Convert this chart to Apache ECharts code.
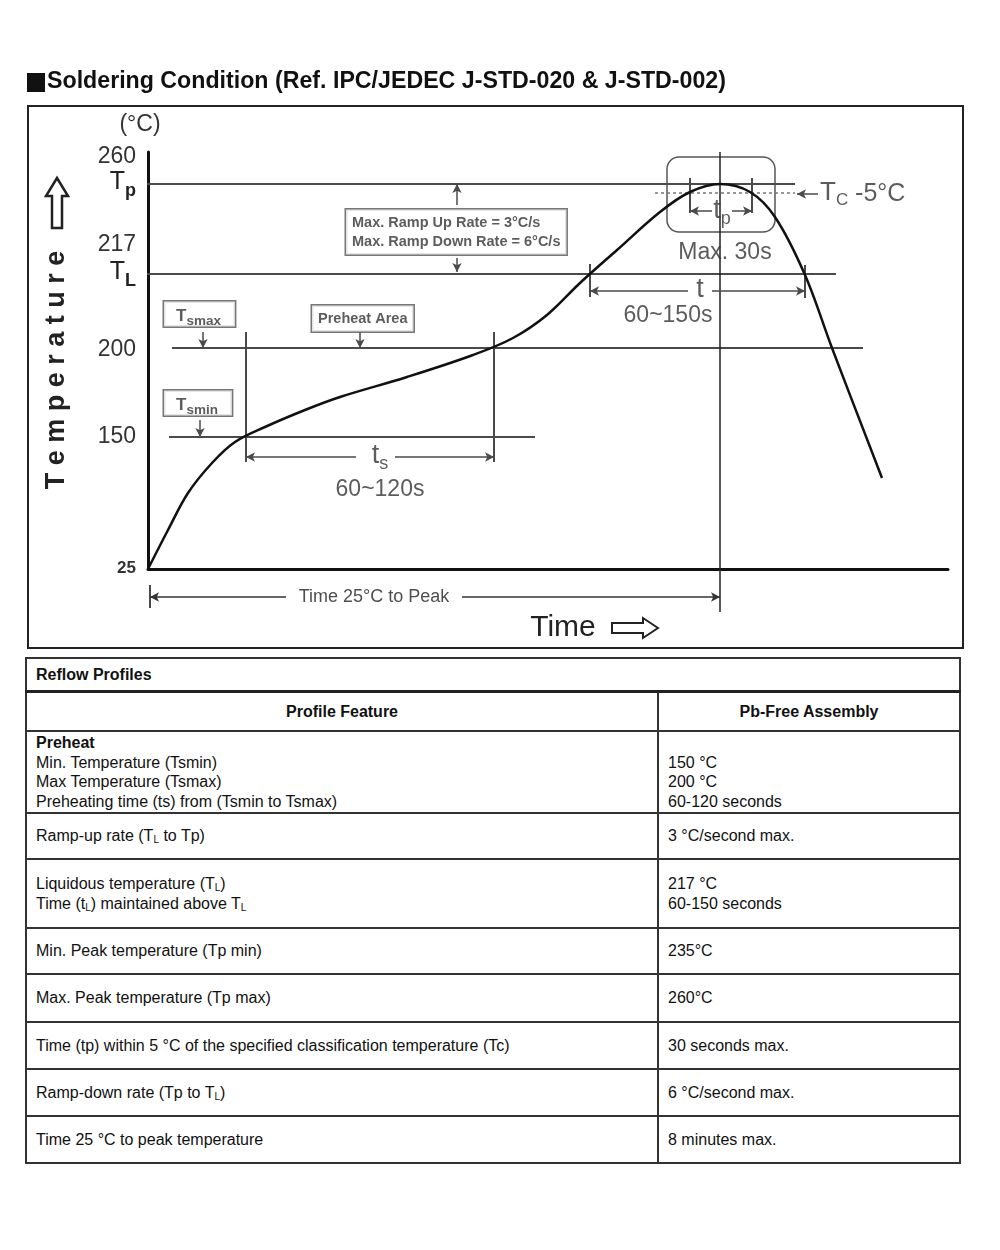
<!DOCTYPE html>
<html>
<head>
<meta charset="utf-8">
<title>Soldering Condition</title>
<script src="https://cdn.jsdelivr.net/npm/echarts@6.0.0/dist/echarts.min.js"></script>
<style>
  body { margin: 0; background: #fff; }
  #chart { position: absolute; left: 0; top: 0; width: 1000px; height: 655px; }
  table.reflow {
    position: absolute; left: 25px; top: 657px; width: 936px;
    border-collapse: collapse;
    font-family: 'Liberation Sans', Arial, sans-serif; font-size: 16px; color: #111;
  }
  table.reflow td { border: 2px solid #333; padding: 0 9px; vertical-align: middle; line-height: 19.5px; }
  table.reflow .cap td { font-weight: bold; border-bottom: 3px solid #222; }
  table.reflow .head td { font-weight: bold; text-align: center; }
  table.reflow td.top { vertical-align: top; padding-top: 1px; }
  table.reflow sub { font-size: 10px; vertical-align: -2px; line-height: 0; }
</style>
</head>
<body>
<div id="chart"></div>

<table class="reflow">
  <colgroup><col style="width:632px"><col></colgroup>
  <tr class="cap" style="height:33px"><td colspan="2">Reflow Profiles</td></tr>
  <tr class="head" style="height:40px"><td>Profile Feature</td><td>Pb-Free Assembly</td></tr>
  <tr style="height:82px">
    <td class="top"><b>Preheat</b><br>Min. Temperature (Tsmin)<br>Max Temperature (Tsmax)<br>Preheating time (ts) from (Tsmin to Tsmax)</td>
    <td class="top"><br>150 °C<br>200 °C<br>60-120 seconds</td>
  </tr>
  <tr style="height:46px"><td>Ramp-up rate (T<sub>L</sub> to Tp)</td><td>3 °C/second max.</td></tr>
  <tr style="height:69px">
    <td>Liquidous temperature (T<sub>L</sub>)<br>Time (t<sub>L</sub>) maintained above T<sub>L</sub></td>
    <td>217 °C<br>60-150 seconds</td>
  </tr>
  <tr style="height:46px"><td>Min. Peak temperature (Tp min)</td><td>235°C</td></tr>
  <tr style="height:48px"><td>Max. Peak temperature (Tp max)</td><td>260°C</td></tr>
  <tr style="height:47px"><td>Time (tp) within 5 °C of the specified classification temperature (Tc)</td><td>30 seconds max.</td></tr>
  <tr style="height:47px"><td>Ramp-down rate (Tp to T<sub>L</sub>)</td><td>6 °C/second max.</td></tr>
  <tr style="height:47px"><td>Time 25 °C to peak temperature</td><td>8 minutes max.</td></tr>
</table>

<script>
  // 示意图单位: x = 时间 (1 单位 ≈ 2px), y = 距 25°C 基线的高度 (非线性温度刻度)
  const curveTime  = [0, 10, 20, 32, 43.5, 58.5, 78.5, 96, 129.5, 162.5, 182.5, 199.5, 216, 234.5, 256, 271, 286, 301, 313.5, 328.5, 342, 367];
  const curveLevel = [0, 39, 76, 106, 127, 142, 159, 172, 192, 214, 231, 254, 286, 319, 357, 377, 385, 377, 352, 294, 221, 91];

  // 纵轴刻度
  const tickNames = ['25', '150', '200', 'TL', '217', 'Tp', '260'];
  const tickPos   = [1, 132, 219, 296, 324, 386, 412];

  // 水平参考线 (Tp, TL, Tsmax, Tsmin)
  const refLevel = [385, 295, 221, 132];
  const refFrom  = [-4, -4, 12, 10.5];
  const refTo    = [323.5, 344, 357.5, 193.5];
  // Tc -5°C 虚线
  const tcLine = [376, 253.5, 323.5];

  // 竖线
  const vTime = [49, 173, 286, 221, 328.5, 271, 302, 1];
  const vFrom = [107, 107, -43, 272, 271, 356, 356, -39];
  const vTo   = [237, 237, 417, 305, 304, 391, 391, -16];

  // 箭头 (起点 -> 箭头端)
  const arrowFrom = [[104, 112], [123.5, 112], [270, 278], [282, 278], [282, 358], [292, 358], [335, 375],
                     [154.5, 364], [154.5, 311], [27.5, 237], [106, 237], [26, 149]];
  const arrowTo   = [[49, 112], [173, 112], [221, 278], [328.5, 278], [271, 358], [302, 358], [324.5, 375],
                     [154.5, 385], [154.5, 297], [27.5, 221], [106, 221], [26, 132]];
  // 图区下方 "Time 25°C to Peak" 箭头
  const peakArrowFrom = [69, 157];
  const peakArrowTo   = [1, 286];
  const peakArrowLevel = -28;

  // 文字标注
  const noteText  = ['{t|t}{s|s}', '60~120s', '{t|t}', '60~150s', '{t|t}{s|p}', 'Max. 30s', 'Time 25°C to Peak'];
  const noteTime  = [116, 116, 276, 260, 287, 288.5, 113];
  const noteLevel = [112, 79, 278, 253, 357, 316, -28];

  const tcText = '{t|T}{s|C} -5°C';
  const tcPos = [336, 375];

  // 方框标注 (左边缘位置)
  const boxText  = ['Max. Ramp Up Rate = 3°C/s\nMax. Ramp Down Rate = 6°C/s', '{b|T}{s|smax}', 'Preheat Area', '{b|T}{s|smin}'];
  const boxTime  = [99, 8, 82, 8];
  const boxLevel = [337, 255, 250.5, 166];

  // tp 圆角框
  const tpBox = [259.5, 337, 313.5, 412];

  const FONT = "'Liberation Sans', Arial, sans-serif";
  const lineGray = '#4a4a4a';
  const textGray = '#333';

  const seg = (xs, ys, style) => ({
    type: 'line',
    data: xs.map((x, i) => [x, ys[i]]),
    symbol: 'none',
    clip: false,
    silent: true,
    lineStyle: style,
    z: 2
  });

  const series = [];

  refLevel.forEach((lv, i) => {
    series.push(seg([refFrom[i], refTo[i]], [lv, lv], { color: lineGray, width: 2 }));
  });
  series.push(seg([tcLine[1], tcLine[2]], [tcLine[0], tcLine[0]], { color: '#777', width: 1.5, type: [3, 3] }));
  vTime.forEach((x, i) => {
    series.push(seg([x, x], [vFrom[i], vTo[i]], { color: i === 2 ? '#222' : lineGray, width: i === 2 ? 1.5 : 2 }));
  });

  // 曲线
  series.push({
    type: 'line',
    data: curveTime.map((t, i) => [t, curveLevel[i]]),
    symbol: 'none',
    smooth: 0.35,
    clip: false,
    silent: true,
    lineStyle: { color: '#111', width: 2.5 },
    z: 5
  });

  // 箭头
  series.push({
    type: 'line',
    data: [],
    silent: true,
    markLine: {
      silent: true,
      animation: false,
      lineStyle: { color: lineGray, width: 1.5, type: 'solid' },
      label: { show: false },
      data: arrowFrom.map((p, i) => [
        { coord: p, symbol: 'none' },
        { coord: arrowTo[i], symbol: 'arrow', symbolSize: [7, 9] }
      ])
    }
  });

  // 图区外的箭头用折线 + 箭头符号
  peakArrowFrom.forEach((x0, i) => {
    const x1 = peakArrowTo[i];
    series.push({
      type: 'line',
      clip: false,
      silent: true,
      showSymbol: true,
      lineStyle: { color: '#333', width: 1.5 },
      itemStyle: { color: '#333' },
      data: [
        { value: [x0, peakArrowLevel], symbol: 'none' },
        { value: [x1, peakArrowLevel], symbol: 'arrow', symbolSize: [7, 9], symbolRotate: x1 < x0 ? 90 : -90 }
      ]
    });
  });

  // tp 圆角框
  series.push({
    type: 'custom',
    silent: true,
    clip: false,
    data: [tpBox],
    renderItem: (params, api) => {
      const a = api.coord([api.value(0), api.value(3)]);
      const b = api.coord([api.value(2), api.value(1)]);
      return {
        type: 'rect',
        shape: { x: a[0], y: a[1], width: b[0] - a[0], height: b[1] - a[1], r: 12 },
        style: { fill: 'none', stroke: '#555', lineWidth: 1.5 }
      };
    }
  });

  // 文字
  series.push({
    type: 'scatter',
    symbolSize: 0,
    clip: false,
    silent: true,
    z: 10,
    data: noteText.map((t, i) => ({
      name: t,
      value: [noteTime[i], noteLevel[i]],
      label: i === 6 ? { fontSize: 18, color: '#222', backgroundColor: '#fff', padding: [0, 2] } : {}
    })),
    label: {
      show: true,
      position: 'inside',
      formatter: p => p.name,
      color: textGray,
      fontFamily: FONT,
      fontSize: 23,
      rich: {
        t: { fontSize: 27, color: textGray, fontFamily: FONT, verticalAlign: 'top', lineHeight: 30 },
        s: { fontSize: 18, color: textGray, fontFamily: FONT, verticalAlign: 'top', lineHeight: 20, padding: [13, 0, 0, 0] }
      }
    }
  });

  series.push({
    type: 'scatter',
    symbolSize: 0,
    clip: false,
    silent: true,
    z: 10,
    data: [{ name: tcText, value: tcPos }],
    label: {
      show: true,
      position: 'inside',
      align: 'left',
      formatter: p => p.name,
      color: textGray,
      fontFamily: FONT,
      fontSize: 25,
      rich: {
        t: { fontSize: 26, color: textGray, fontFamily: FONT, verticalAlign: 'top', lineHeight: 28 },
        s: { fontSize: 17, color: textGray, fontFamily: FONT, verticalAlign: 'top', lineHeight: 18, padding: [12, 0, 0, 0] }
      }
    }
  });

  // 方框
  series.push({
    type: 'scatter',
    symbolSize: 0,
    clip: false,
    silent: true,
    z: 10,
    data: boxText.map((t, i) => ({ name: t, value: [boxTime[i], boxLevel[i]] })),
    label: {
      show: true,
      position: 'inside',
      align: 'left',
      formatter: p => p.name,
      color: textGray,
      fontFamily: FONT,
      fontSize: 14.5,
      fontWeight: 'bold',
      lineHeight: 19,
      backgroundColor: '#fff',
      borderColor: '#555',
      borderWidth: 1.5,
      padding: [4, 6, 3, 6],
      rich: {
        b: { fontSize: 17, fontWeight: 'bold', color: textGray, fontFamily: FONT, verticalAlign: 'top', lineHeight: 18, padding: [2, 0, 0, 6] },
        s: { fontSize: 13.5, fontWeight: 'bold', color: textGray, fontFamily: FONT, verticalAlign: 'top', lineHeight: 15, padding: [9, 8, 0, 0] }
      }
    }
  });

  const chart = echarts.init(document.getElementById('chart'));
  chart.setOption({
    animation: false,
    backgroundColor: '#fff',
    title: {
      text: 'Soldering Condition (Ref. IPC/JEDEC J-STD-020 & J-STD-002)',
      left: 47,
      top: 70,
      padding: 0,
      textStyle: { fontFamily: FONT, fontSize: 23.2, fontWeight: 'bold', color: '#111' }
    },
    grid: { left: 148, right: 52, top: 152, bottom: 86, outerBoundsMode: 'none' },
    xAxis: {
      type: 'value',
      min: 0,
      max: 400,
      axisLine: { show: true, lineStyle: { color: '#111', width: 3 } },
      axisTick: { show: false },
      axisLabel: { show: false },
      splitLine: { show: false }
    },
    yAxis: {
      type: 'value',
      min: 0,
      max: 417,
      name: '(°C)',
      nameLocation: 'end',
      nameGap: 16,
      nameTextStyle: { fontFamily: FONT, fontSize: 23, color: textGray, padding: [0, 16, 0, 0] },
      axisLine: { show: true, lineStyle: { color: '#111', width: 3 } },
      axisTick: { show: false },
      splitLine: { show: false },
      axisLabel: {
        customValues: tickPos,
        margin: 12,
        color: textGray,
        fontFamily: FONT,
        fontSize: 23,
        formatter: v => {
          const name = tickNames[tickPos.indexOf(v)];
          if (name === 'TL') return '{t|T}{sub|L}';
          if (name === 'Tp') return '{t|T}{sub|p}';
          if (name === '25') return '{sm|25}';
          return name;
        },
        rich: {
          t: { fontSize: 25, color: '#222', fontFamily: FONT, verticalAlign: 'top', lineHeight: 26 },
          sub: { fontSize: 18, fontWeight: 'bold', color: '#222', fontFamily: FONT, verticalAlign: 'top', lineHeight: 18, padding: [12, 0, 0, 0] },
          sm: { fontSize: 17, fontWeight: 'bold', color: textGray, fontFamily: FONT }
        }
      }
    },
    graphic: [
      { type: 'rect', shape: { x: 28, y: 106, width: 935, height: 542 }, style: { fill: 'none', stroke: '#222', lineWidth: 2 }, silent: true },
      { type: 'rect', shape: { x: 27, y: 73, width: 18, height: 19 }, style: { fill: '#111' }, silent: true },
      {
        type: 'text', x: 57, y: 370, rotation: Math.PI / 2, silent: true,
        style: { text: 'T e m p e r a t u r e', font: "bold 27px 'Liberation Sans', Arial", fill: '#222', align: 'center', verticalAlign: 'middle' }
      },
      {
        type: 'polygon', silent: true,
        shape: { points: [[57, 178], [68, 196], [62, 196], [62, 228], [52, 228], [52, 196], [46, 196]] },
        style: { fill: '#fff', stroke: '#222', lineWidth: 2.5 }
      },
      {
        type: 'text', x: 563, y: 628, silent: true,
        style: { text: 'Time', font: "30px 'Liberation Sans', Arial", fill: '#222', align: 'center', verticalAlign: 'middle' }
      },
      {
        type: 'polygon', silent: true,
        shape: { points: [[658, 628], [643, 618], [643, 623], [612, 623], [612, 633], [643, 633], [643, 638]] },
        style: { fill: '#fff', stroke: '#222', lineWidth: 2 }
      }
    ],
    series: series
  });
</script>
</body>
</html>
